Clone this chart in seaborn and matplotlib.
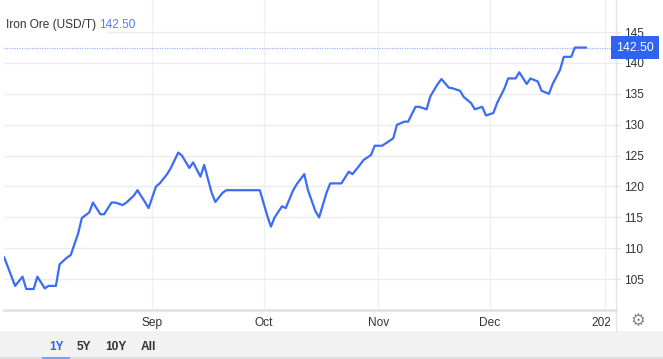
import matplotlib
matplotlib.use("Agg")
import matplotlib.pyplot as plt
import matplotlib.transforms as mtrans
from matplotlib.patches import Rectangle
from matplotlib.lines import Line2D
import seaborn as sns
import pandas as pd

# ---------------- data ----------------
dates = [
    "2024-07-23", "2024-07-26", "2024-07-28", "2024-07-29", "2024-07-31",
    "2024-08-01", "2024-08-03", "2024-08-04", "2024-08-06", "2024-08-07",
    "2024-08-09", "2024-08-10", "2024-08-12", "2024-08-13", "2024-08-15",
    "2024-08-16", "2024-08-18", "2024-08-19", "2024-08-21", "2024-08-22",
    "2024-08-24", "2024-08-25", "2024-08-27", "2024-08-28", "2024-08-30",
    "2024-08-31", "2024-09-02", "2024-09-03", "2024-09-05", "2024-09-06",
    "2024-09-08", "2024-09-09", "2024-09-11", "2024-09-12", "2024-09-14",
    "2024-09-15", "2024-09-17", "2024-09-18", "2024-09-20", "2024-09-21",
    "2024-09-30", "2024-10-02", "2024-10-03", "2024-10-04", "2024-10-06",
    "2024-10-07", "2024-10-09", "2024-10-10", "2024-10-12", "2024-10-13",
    "2024-10-15", "2024-10-16", "2024-10-18", "2024-10-19", "2024-10-21",
    "2024-10-22", "2024-10-24", "2024-10-25", "2024-10-27", "2024-10-28",
    "2024-10-30", "2024-10-31", "2024-11-02", "2024-11-03", "2024-11-05",
    "2024-11-06", "2024-11-08", "2024-11-09", "2024-11-11", "2024-11-12",
    "2024-11-14", "2024-11-15", "2024-11-17", "2024-11-18", "2024-11-20",
    "2024-11-21", "2024-11-23", "2024-11-24", "2024-11-26", "2024-11-27",
    "2024-11-29", "2024-11-30", "2024-12-02", "2024-12-03", "2024-12-05",
    "2024-12-06", "2024-12-08", "2024-12-09", "2024-12-11", "2024-12-12",
    "2024-12-14", "2024-12-15", "2024-12-17", "2024-12-18", "2024-12-20",
    "2024-12-21", "2024-12-23", "2024-12-24", "2024-12-26", "2024-12-27",
]
prices = [
    108.6, 103.9, 105.4, 103.4, 103.4,
    105.4, 103.5, 103.9, 103.9, 107.4,
    108.5, 108.9, 112.4, 114.9, 115.8,
    117.4, 115.5, 115.5, 117.4, 117.4,
    117.0, 117.4, 118.5, 119.4, 117.5,
    116.5, 120.0, 120.5, 122.0, 123.0,
    125.5, 125.0, 123.0, 123.9, 121.6,
    123.5, 119.0, 117.5, 119.0, 119.4,
    119.4, 115.3, 113.5, 115.0, 116.8,
    116.5, 119.4, 120.4, 122.0, 119.4,
    116.0, 115.0, 119.0, 120.5, 120.5,
    120.5, 122.4, 122.0, 123.5, 124.3,
    125.1, 126.6, 126.6, 127.0, 127.8,
    130.0, 130.5, 130.5, 132.9, 132.9,
    132.5, 134.6, 136.6, 137.4, 136.0,
    135.9, 135.5, 134.5, 133.5, 132.5,
    132.9, 131.5, 131.9, 133.5, 135.9,
    137.5, 137.5, 138.5, 136.6, 137.5,
    137.0, 135.5, 135.0, 136.6, 138.9,
    141.0, 141.0, 142.5, 142.5, 142.5,
]
title = "Iron Ore (USD/T)"
last_value = 142.50
y_ticks = [105, 110, 115, 120, 125, 130, 135, 140, 145]
x_tick_dates = ["2024-09-01", "2024-10-01", "2024-11-01", "2024-12-01", "2025-01-01"]
x_tick_labels = ["Sep", "Oct", "Nov", "Dec", "2025"]
range_buttons = ["1Y", "5Y", "10Y", "All"]

# ---------------- style ----------------
W, H = 663, 359
sns.set_style("white")
plt.rcParams["font.family"] = ["Liberation Sans", "DejaVu Sans"]

LINE = "#3a6cf4"
TXT = "#333333"
GRID_H = "#ebebeb"
GRID_V = "#edf1f6"
FS = 8.6

fig = plt.figure(figsize=(W / 100, H / 100), dpi=100)
fig.patch.set_facecolor("white")


def fx(x):
    return x / W


def fy(y):
    return 1 - y / H


ax = fig.add_axes([fx(4), fy(310), (616 - 4) / W, 310 / H])
ax.set_facecolor("white")

df = pd.DataFrame({"date": pd.to_datetime(dates), "price": prices})
sns.lineplot(data=df, x="date", y="price", ax=ax, color=LINE, linewidth=1.6,
             zorder=4)

ax.set_xlim(pd.Timestamp(dates[0]), pd.Timestamp("2025-01-04 02:00"))
ax.set_ylim(100, 150.2)
ax.set_xlabel("")
ax.set_ylabel("")

# grid
for v in y_ticks:
    ax.axhline(v, color=GRID_H, lw=1, zorder=1)
for d in x_tick_dates:
    ax.axvline(pd.Timestamp(d), color=GRID_V, lw=1, zorder=1)

# last value dotted line
ax.axhline(last_value, color="#9db2fb", lw=0.9, ls=(0, (1, 1)), zorder=2)

# y axis on right
ax.yaxis.tick_right()
ax.set_yticks(y_ticks)
ax.set_yticklabels([str(v) for v in y_ticks])
ax.tick_params(axis="y", length=3, width=1, color="#e3e3e3", pad=3,
               labelsize=FS, labelcolor=TXT)

# x axis
ax.set_xticks(pd.to_datetime(x_tick_dates))
ax.set_xticklabels(x_tick_labels)
ax.tick_params(axis="x", length=0, pad=5, labelsize=FS, labelcolor=TXT)

for s in ["left", "top"]:
    ax.spines[s].set_visible(False)
ax.spines["bottom"].set_color("#e3e3e3")
ax.spines["bottom"].set_linewidth(2)
ax.spines["right"].set_color("#e3e3e3")
ax.spines["right"].set_linewidth(1)

# panel to the right of the plot hides the overflow of the last month label
fig.add_artist(Rectangle((fx(609.5), fy(330)), (632 - 609.5) / W, 18 / H,
                         transform=fig.transFigure, fc="white", ec="none",
                         zorder=3))
# right border extended down to the button band
fig.add_artist(Line2D([fx(616), fx(616)], [fy(310), fy(331)],
                      color="#e3e3e3", lw=1, transform=fig.transFigure,
                      zorder=4))

# last value box
blend = mtrans.blended_transform_factory(ax.transAxes, ax.transData)
ax.text(1.0, last_value, f"{last_value:.2f}", transform=blend, ha="left",
        va="center", color="white", fontsize=FS + 0.3, zorder=10,
        clip_on=False,
        bbox=dict(boxstyle="square,pad=0.42", fc="#2f62f5", ec="none"))

# title
fig.text(fx(6), fy(25), title + " ", ha="left", va="center", fontsize=FS,
         color=TXT, bbox=dict(boxstyle="square,pad=0.6", fc="white",
                              ec="none"), zorder=10)
fig.text(fx(99), fy(25), f"{last_value:.2f}", ha="left", va="center",
         fontsize=FS, color="#5b7cf6", zorder=11)

# gear icon
fig.text(fx(638), fy(321), "\u2699", ha="center", va="center", fontsize=12,
         color="#8a8a8a", family="DejaVu Sans", zorder=5)

# bottom range band
fig.add_artist(Rectangle((0, fy(357)), 1, (357 - 331) / H,
                         transform=fig.transFigure, fc="#f2f2f2", ec="none"))
fig.add_artist(Rectangle((0, 0), 1, 2 / H, transform=fig.transFigure,
                         fc="#dedede", ec="none"))
btn_x = [56, 84, 116, 148]
for i, (lab, bx) in enumerate(zip(range_buttons, btn_x)):
    fig.text(fx(bx), fy(347), lab, ha="center", va="center", fontsize=FS,
             fontweight="bold", color="#2f62f5" if i == 0 else TXT)
fig.add_artist(Rectangle((fx(42), 0), (70 - 42) / W, 2.2 / H,
                         transform=fig.transFigure, fc="#7f9cf7", ec="none"))

fig.savefig("out.png", dpi=100)
